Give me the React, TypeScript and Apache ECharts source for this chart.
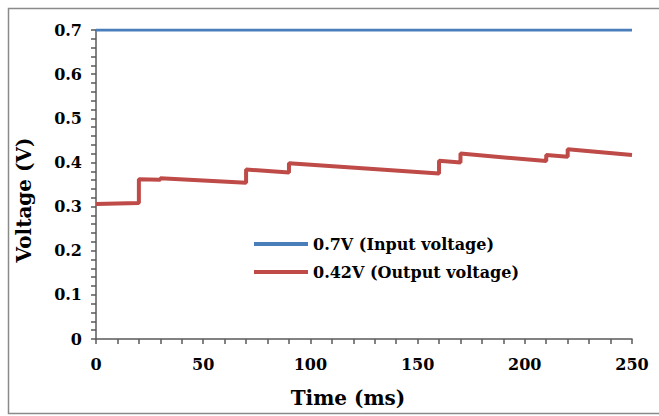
import React, { useEffect, useRef } from "react";
import * as echarts from "echarts";

const inputTimes = [0, 250];
const inputVoltage = [0.7, 0.7];
const outputTimes = [0, 20, 20, 30, 30, 70, 70, 90, 90, 160, 160, 170, 170, 210, 210, 220, 220, 250];
const outputVoltage = [0.306, 0.308, 0.362, 0.361, 0.364, 0.354, 0.384, 0.377, 0.398, 0.375, 0.404, 0.4, 0.42, 0.403, 0.417, 0.413, 0.43, 0.417];
const seriesNames = ["0.7V (Input voltage)", "0.42V (Output voltage)"];
const xTitle = "Time (ms)";
const yTitle = "Voltage (V)";

const FONT = "'DejaVu Serif', 'Liberation Serif', serif";

export default function App() {
  const ref = useRef<HTMLDivElement>(null);
  useEffect(() => {
    if (!ref.current) return;
    const chart = echarts.init(ref.current, undefined, { renderer: "svg" });
    const axisLabel = { color: "#000", fontFamily: FONT, fontWeight: "bold" as const, fontSize: 16 };
    chart.setOption({
      animation: false,
      backgroundColor: "#fff",
      grid: { left: 96, top: 30, right: 27, bottom: 77, containLabel: false },
      xAxis: {
        type: "value",
        min: 0,
        max: 250,
        interval: 50,
        axisLine: { show: true, onZero: false, lineStyle: { color: "#5a5a5a", width: 1.5 } },
        axisTick: { show: true, length: 5, lineStyle: { color: "#5a5a5a", width: 1.5 } },
        minorTick: { show: true, splitNumber: 5, length: 5, lineStyle: { color: "#5a5a5a", width: 1.5 } },
        splitLine: { show: false },
        axisLabel: { ...axisLabel, margin: 17 },
      },
      yAxis: {
        type: "value",
        min: 0,
        max: 0.7,
        interval: 0.1,
        axisLine: { show: true, lineStyle: { color: "#5a5a5a", width: 1.5 } },
        axisTick: { show: true, length: 5, lineStyle: { color: "#5a5a5a", width: 1.5 } },
        minorTick: { show: true, splitNumber: 5, length: 5, lineStyle: { color: "#5a5a5a", width: 1.5 } },
        splitLine: { show: false },
        axisLabel: { ...axisLabel, margin: 14 },
      },
      legend: {
        orient: "vertical",
        left: 249,
        top: 231,
        itemWidth: 54,
        itemHeight: 4,
        itemGap: 12,
        icon: "rect",
        textStyle: { color: "#000", fontFamily: FONT, fontWeight: "bold", fontSize: 16 },
        data: seriesNames,
      },
      series: [
        {
          name: seriesNames[0],
          type: "line",
          data: inputTimes.map((t, i) => [t, inputVoltage[i]]),
          showSymbol: false,
          symbol: "none",
          lineStyle: { color: "#4a7ebb", width: 3 },
          itemStyle: { color: "#4a7ebb" },
        },
        {
          name: seriesNames[1],
          type: "line",
          data: outputTimes.map((t, i) => [t, outputVoltage[i]]),
          showSymbol: false,
          symbol: "none",
          lineStyle: { color: "#be4b48", width: 4 },
          itemStyle: { color: "#be4b48" },
        },
      ],
      graphic: [
        {
          type: "rect",
          shape: { x: 8.5, y: 8.5, width: 700, height: 405 },
          style: { fill: "none", stroke: "#8a8a8a", lineWidth: 1.5 },
          silent: true,
          z: -1,
        },
        {
          type: "text",
          x: 348,
          y: 398,
          style: { text: xTitle, fill: "#000", font: `bold 20px ${FONT}`, textAlign: "center", textVerticalAlign: "middle" },
        },
        {
          type: "text",
          x: 24,
          y: 200,
          rotation: Math.PI / 2,
          style: { text: yTitle, fill: "#000", font: `bold 20px ${FONT}`, textAlign: "center", textVerticalAlign: "middle" },
        },
      ],
    });
    return () => chart.dispose();
  }, []);
  return <div ref={ref} style={{ position: "fixed", left: 0, top: 0, width: 659, height: 416 }} />;
}
